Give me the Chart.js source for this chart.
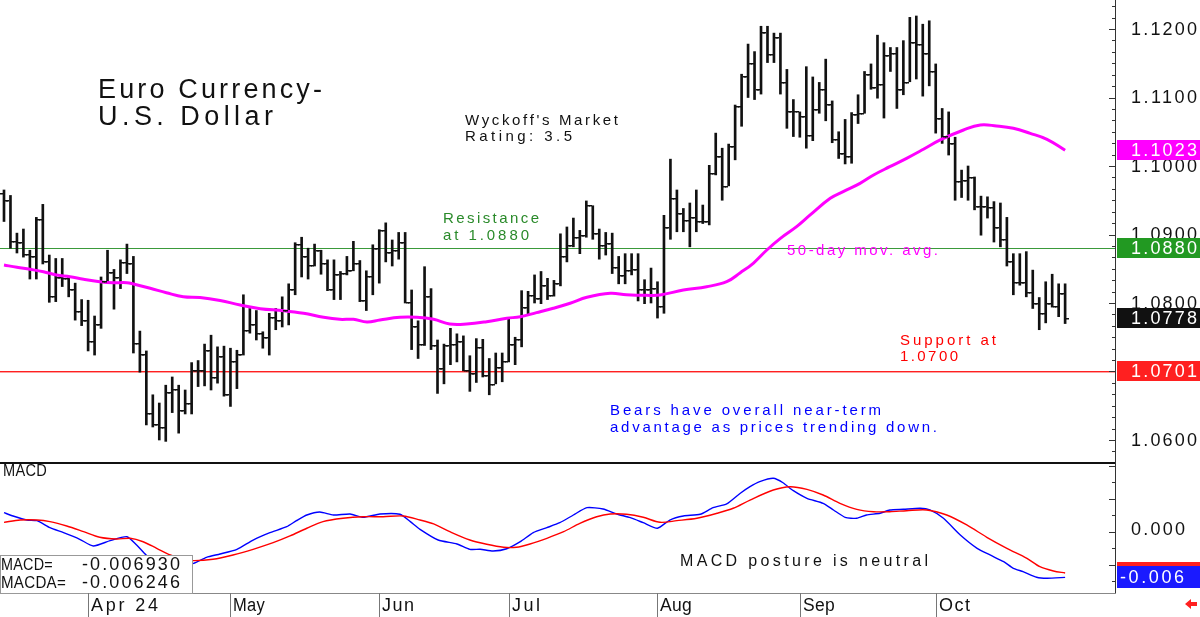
<!DOCTYPE html>
<html>
<head>
<meta charset="utf-8">
<script src="https://cdn.jsdelivr.net/npm/chart.js@4.4.1/dist/chart.umd.min.js"></script>
<style>
  html, body { margin: 0; padding: 0; background: #fff; }
  #wrap { position: relative; width: 1200px; height: 617px; overflow: hidden; background: #fff; }
  #priceChart { position: absolute; left: 0; top: 0; }
  #macdChart { position: absolute; left: 0; top: 462px; }
</style>
</head>
<body>
<div id="wrap">
  <canvas id="priceChart" width="1200" height="462"></canvas>
  <canvas id="macdChart" width="1200" height="155"></canvas>
</div>
<script>
// daily EUR/USD bars, mid-March to late October 2024 (index = trading day)
const highs = [
  1.0965, 1.0957, 1.0902, 1.0908, 1.0877, 1.0925, 1.0944, 1.0870, 1.0865, 1.0865,
  1.0838, 1.0829, 1.0805, 1.0804, 1.0781, 1.0838, 1.0877, 1.0849, 1.0863, 1.0886,
  1.0868, 1.0759, 1.0730, 1.0666, 1.0654, 1.0680, 1.0692, 1.0680, 1.0673, 1.0713,
  1.0716, 1.0740, 1.0753, 1.0736, 1.0737, 1.0734, 1.0731, 1.0812, 1.0792, 1.0789,
  1.0758, 1.0785, 1.0792, 1.0809, 1.0828, 1.0888, 1.0896, 1.0880, 1.0886, 1.0877,
  1.0863, 1.0863, 1.0846, 1.0868, 1.0890, 1.0862, 1.0847, 1.0885, 1.0907, 1.0917,
  1.0892, 1.0903, 1.0903, 1.0819, 1.0774, 1.0853, 1.0821, 1.0746, 1.0740, 1.0763,
  1.0755, 1.0752, 1.0723, 1.0748, 1.0747, 1.0719, 1.0727, 1.0727, 1.0778, 1.0750,
  1.0818, 1.0817, 1.0841, 1.0846, 1.0836, 1.0833, 1.0901, 1.0911, 1.0924, 1.0906,
  1.0949, 1.0942, 1.0908, 1.0903, 1.0902, 1.0868, 1.0872, 1.0872, 1.0872, 1.0834,
  1.0851, 1.0831, 1.0928, 1.1010, 1.0965, 1.0938, 1.0946, 1.0965, 1.0943, 1.1001,
  1.1048, 1.1026, 1.1032, 1.1089, 1.1134, 1.1178, 1.1167, 1.1204, 1.1204, 1.1194,
  1.1194, 1.1141, 1.1097, 1.1079, 1.1145, 1.1130, 1.1122, 1.1156, 1.1095, 1.1050,
  1.1068, 1.1078, 1.1104, 1.1138, 1.1149, 1.1191, 1.1180, 1.1173, 1.1173, 1.1183,
  1.1217, 1.1219, 1.1207, 1.1212, 1.1149, 1.1084, 1.1079, 1.1042, 1.0994, 1.1000,
  1.0984, 1.0956, 1.0955, 1.0948, 1.0946, 1.0925, 1.0872, 1.0872, 1.0875, 1.0848,
  1.0808, 1.0831, 1.0842, 1.0828, 1.0828
];
const lows = [
  1.0919, 1.0880, 1.0873, 1.0867, 1.0835, 1.0835, 1.0857, 1.0801, 1.0802, 1.0824,
  1.0809, 1.0775, 1.0767, 1.0730, 1.0724, 1.0763, 1.0831, 1.0791, 1.0821, 1.0843,
  1.0727, 1.0699, 1.0622, 1.0619, 1.0600, 1.0598, 1.0640, 1.0610, 1.0638, 1.0638,
  1.0678, 1.0679, 1.0673, 1.0683, 1.0664, 1.0649, 1.0675, 1.0724, 1.0756, 1.0746,
  1.0734, 1.0724, 1.0761, 1.0765, 1.0768, 1.0812, 1.0838, 1.0835, 1.0854, 1.0842,
  1.0818, 1.0805, 1.0805, 1.0841, 1.0847, 1.0802, 1.0789, 1.0812, 1.0829, 1.0860,
  1.0854, 1.0864, 1.0800, 1.0732, 1.0719, 1.0738, 1.0732, 1.0668, 1.0682, 1.0710,
  1.0714, 1.0701, 1.0671, 1.0684, 1.0692, 1.0666, 1.0682, 1.0685, 1.0714, 1.0710,
  1.0736, 1.0782, 1.0800, 1.0799, 1.0805, 1.0810, 1.0825, 1.0860, 1.0882, 1.0872,
  1.0896, 1.0893, 1.0864, 1.0870, 1.0843, 1.0828, 1.0828, 1.0841, 1.0803, 1.0799,
  1.0800, 1.0778, 1.0785, 1.0893, 1.0904, 1.0904, 1.0882, 1.0904, 1.0916, 1.0914,
  1.0987, 1.0950, 1.0971, 1.1009, 1.1058, 1.1100, 1.1097, 1.1105, 1.1151, 1.1151,
  1.1105, 1.1055, 1.1043, 1.1042, 1.1026, 1.1037, 1.1077, 1.1066, 1.1034, 1.1011,
  1.1003, 1.1004, 1.1062, 1.1077, 1.1112, 1.1099, 1.1070, 1.1138, 1.1084, 1.1104,
  1.1123, 1.1127, 1.1102, 1.1117, 1.1048, 1.1033, 1.1016, 1.0950, 1.0954, 1.0950,
  1.0936, 1.0899, 1.0924, 1.0889, 1.0882, 1.0854, 1.0812, 1.0826, 1.0809, 1.0792,
  1.0761, 1.0771, 1.0794, 1.0780, 1.0770
];
const opens = [
  1.0960, 1.0950, 1.0890, 1.0889, 1.0872, 1.0869, 1.0922, 1.0861, 1.0810, 1.0838,
  1.0836, 1.0820, 1.0789, 1.0775, 1.0745, 1.0770, 1.0832, 1.0845, 1.0838, 1.0860,
  1.0858, 1.0742, 1.0725, 1.0640, 1.0624, 1.0619, 1.0670, 1.0674, 1.0644, 1.0654,
  1.0702, 1.0702, 1.0731, 1.0692, 1.0722, 1.0667, 1.0715, 1.0725, 1.0760, 1.0770,
  1.0756, 1.0751, 1.0780, 1.0775, 1.0790, 1.0820, 1.0886, 1.0869, 1.0855, 1.0877,
  1.0858, 1.0821, 1.0843, 1.0844, 1.0848, 1.0859, 1.0804, 1.0840, 1.0880, 1.0906,
  1.0875, 1.0878, 1.0889, 1.0801, 1.0766, 1.0740, 1.0810, 1.0739, 1.0705, 1.0739,
  1.0740, 1.0744, 1.0702, 1.0698, 1.0736, 1.0695, 1.0682, 1.0707, 1.0716, 1.0740,
  1.0747, 1.0794, 1.0812, 1.0807, 1.0826, 1.0812, 1.0829, 1.0868, 1.0885, 1.0896,
  1.0899, 1.0943, 1.0902, 1.0885, 1.0888, 1.0852, 1.0841, 1.0848, 1.0849, 1.0821,
  1.0820, 1.0822, 1.0795, 1.0911, 1.0954, 1.0932, 1.0921, 1.0925, 1.0920, 1.0919,
  1.0990, 1.1015, 1.0971, 1.1029, 1.1087, 1.1131, 1.1151, 1.1113, 1.1195, 1.1164,
  1.1188, 1.1122, 1.1081, 1.1081, 1.1073, 1.1045, 1.1083, 1.1112, 1.1090, 1.1040,
  1.1019, 1.1015, 1.1076, 1.1077, 1.1134, 1.1115, 1.1120, 1.1162, 1.1165, 1.1113,
  1.1122, 1.1181, 1.1178, 1.1165, 1.1138, 1.1070, 1.1044, 1.1034, 1.0978, 1.0979,
  1.0984, 1.0941, 1.0941, 1.0940, 1.0911, 1.0893, 1.0862, 1.0831, 1.0830, 1.0816,
  1.0800, 1.0785, 1.0800, 1.0796, 1.0814
];
const closes = [
  1.0950, 1.0890, 1.0889, 1.0872, 1.0869, 1.0922, 1.0861, 1.0810, 1.0838, 1.0836,
  1.0820, 1.0789, 1.0775, 1.0745, 1.0770, 1.0832, 1.0845, 1.0838, 1.0860, 1.0858,
  1.0742, 1.0725, 1.0640, 1.0624, 1.0619, 1.0670, 1.0674, 1.0644, 1.0654, 1.0702,
  1.0702, 1.0731, 1.0692, 1.0722, 1.0667, 1.0715, 1.0725, 1.0760, 1.0770, 1.0756,
  1.0751, 1.0780, 1.0775, 1.0790, 1.0820, 1.0886, 1.0869, 1.0855, 1.0877, 1.0858,
  1.0821, 1.0843, 1.0844, 1.0848, 1.0859, 1.0804, 1.0840, 1.0880, 1.0906, 1.0875,
  1.0878, 1.0889, 1.0801, 1.0766, 1.0740, 1.0810, 1.0739, 1.0705, 1.0739, 1.0740,
  1.0744, 1.0702, 1.0698, 1.0736, 1.0695, 1.0682, 1.0707, 1.0716, 1.0740, 1.0747,
  1.0794, 1.0812, 1.0807, 1.0826, 1.0812, 1.0829, 1.0868, 1.0885, 1.0896, 1.0899,
  1.0943, 1.0902, 1.0885, 1.0888, 1.0852, 1.0841, 1.0848, 1.0849, 1.0821, 1.0820,
  1.0822, 1.0795, 1.0911, 1.0954, 1.0932, 1.0921, 1.0925, 1.0920, 1.0919, 1.0990,
  1.1015, 1.0971, 1.1029, 1.1087, 1.1131, 1.1151, 1.1113, 1.1195, 1.1164, 1.1188,
  1.1122, 1.1081, 1.1081, 1.1073, 1.1045, 1.1083, 1.1112, 1.1090, 1.1040, 1.1019,
  1.1015, 1.1076, 1.1077, 1.1134, 1.1115, 1.1120, 1.1162, 1.1165, 1.1113, 1.1122,
  1.1181, 1.1178, 1.1165, 1.1138, 1.1070, 1.1044, 1.1034, 1.0978, 1.0979, 1.0984,
  1.0941, 1.0941, 1.0940, 1.0911, 1.0893, 1.0862, 1.0831, 1.0830, 1.0816, 1.0800,
  1.0785, 1.0800, 1.0796, 1.0814, 1.0778
];

// 50-day moving average, read at these bar positions
const maIdx = [0, 2, 4, 6.1, 8.1, 10.2, 12.3, 14.8, 16.9, 19, 20, 22.6, 25.1, 27.7, 30.3,
  33.4, 36.5, 39.6, 43.2, 46.3, 49.4, 51.9, 54, 56.1, 58.1, 61.2, 63.8, 66.4, 68.9, 71.5,
  74.6, 77.7, 79.8, 82.3, 84.9, 87.5, 90.1, 93.7, 96.2, 99.3, 101.4, 105, 108.6, 111.7, 113.8,
  115.8, 117.9, 120, 122.5, 124.6, 127.7, 129.7, 132.3, 134.4, 136.9, 139.5, 142.1, 144.7, 148.3, 150.9,
  153.4, 156, 158.6, 161.2, 164];
const maVals = [1.08555, 1.08521, 1.08492, 1.08457, 1.08409, 1.08384, 1.08346, 1.08311, 1.08296, 1.08296,
  1.08277, 1.08215, 1.0815, 1.08092, 1.0808, 1.08036, 1.07971, 1.07917, 1.07888, 1.0785,
  1.07791, 1.07762, 1.07762, 1.07723, 1.07752, 1.07791, 1.07791, 1.07762, 1.07693, 1.07693,
  1.07727, 1.07777, 1.078, 1.07859, 1.07923, 1.07996, 1.08083, 1.08142, 1.08121, 1.08112,
  1.08117, 1.0819, 1.08238, 1.08311, 1.08442, 1.0858, 1.08774, 1.08944, 1.09114, 1.09285,
  1.09528, 1.09625, 1.09747, 1.09869, 1.0999, 1.10112, 1.10244, 1.1038, 1.10526, 1.10599,
  1.10584, 1.1055, 1.10477, 1.1039, 1.1023];

// MACD (blue) and its average MACDA (red)
const macdIdx = [0, 1.4, 3.5, 5.1, 7.1, 9.2, 11.7, 13.8, 16.4, 19, 20.5, 22, 24.1, 26.4, 29.3,
  31.3, 33.4, 36, 38.5, 41.1, 43.7, 45.2, 46.8, 48.8, 50.9, 53.5, 55.5, 58.1, 61.2, 62.8,
  64.3, 67.1, 70, 72, 73.6, 75.6, 77.7, 79.8, 81.8, 83.9, 85.9, 88, 90.1, 92.6, 94.7,
  96.8, 98.8, 101, 102.9, 105, 107.6, 109.6, 111.7, 113.8, 115.3, 116.8, 118.9, 120.4, 122, 124.1,
  126.6, 128.2, 130, 131.8, 133.3, 135.4, 136.9, 139, 141.6, 143.1, 145.2, 147.8, 150.4, 152.4, 154.5,
  156, 157.5, 159.6, 161.2, 164];
const macdVals = [0.00288, 0.00238, 0.00177, 0.00167, 0.00061, -0.00015, -0.00115, -0.00217, -0.00136, -0.00076,
  -0.00202, -0.00356, -0.00505, -0.00535, -0.00479, -0.00388, -0.00338, -0.00267, -0.00126, -0.00015,
  0.00076, 0.00167, 0.00253, 0.00298, 0.00253, 0.00268, 0.00218, 0.00268, 0.00264, 0.00152,
  0.00036, -0.00126, -0.00186, -0.00267, -0.00267, -0.00292, -0.00258, -0.00152, -0.00015, 0.00061,
  0.00136, 0.00253, 0.00364, 0.00344, 0.00268, 0.00212, 0.00136, 0.00052, 0.00177, 0.00238,
  0.00264, 0.00364, 0.0042, 0.00582, 0.00682, 0.00758, 0.00809, 0.00742, 0.00621, 0.00506,
  0.0043, 0.00329, 0.00218, 0.00203, 0.00253, 0.00279, 0.00329, 0.00339, 0.00355, 0.00329,
  0.00203, -0.0005, -0.00252, -0.00353, -0.00455, -0.00555, -0.00606, -0.00691, -0.00706, -0.00693];
const sigIdx = [0, 2.5, 5.1, 7.1, 9.7, 12.3, 14.8, 17.4, 19.5, 21.5, 23.6, 25.7, 27.5, 29.3, 32.3,
  35.4, 38.5, 41.6, 44.2, 46.8, 49.3, 52.4, 55.5, 58.6, 61.7, 64.3, 66.4, 68.9, 72, 74.6,
  77.2, 79.2, 81.3, 83.9, 86.5, 89, 91.6, 93.7, 96.2, 98.8, 101.4, 104, 107.1, 110.2, 112.7,
  115.3, 118.9, 121.5, 124.1, 126.6, 129.2, 131.8, 134.4, 136.9, 139.5, 142.6, 145.7, 148.8, 151.9, 155,
  158.1, 160.1, 162.2, 164];
const sigVals = [0.00142, 0.00177, 0.00177, 0.00152, 0.00086, 0, -0.00085, -0.00111, -0.001, -0.00152,
  -0.00252, -0.00353, -0.00414, -0.00439, -0.00418, -0.00353, -0.00267, -0.00167, -0.00065, 0.00052,
  0.00152, 0.00203, 0.00227, 0.00227, 0.00238, 0.00177, 0.00117, 0, -0.00126, -0.00191,
  -0.00236, -0.00236, -0.00186, -0.001, 0, 0.00127, 0.00227, 0.00268, 0.00264, 0.00218,
  0.00142, 0.00167, 0.00203, 0.00279, 0.00355, 0.0048, 0.00632, 0.00682, 0.00642, 0.00556,
  0.0043, 0.00339, 0.00303, 0.00303, 0.00318, 0.00329, 0.00253, 0.00102, -0.00085, -0.00252,
  -0.00403, -0.0053, -0.00595, -0.00625];

const monthIdx = [13, 35, 58, 78, 101, 123, 144];
const monthLabels = ['Apr 24', 'May', 'Jun', 'Jul', 'Aug', 'Sep', 'Oct'];
const priceTicks = [1.06, 1.07, 1.08, 1.09, 1.10, 1.11, 1.12];

const resistance = 1.0880;
const support = 1.0701;
const lastClose = 1.0778;
const lastMA = 1.1023;
const lastMacd = -0.006930;
const lastMacda = -0.006246;

const X_MIN = -0.618, X_MAX = 171.71;
const AXIS_X = 1115;
const FONT = '"Liberation Sans", Arial, sans-serif';

// text fitted to the width it has in the original (spacing, or squeeze if too wide)
function spaced(ctx, text, x, y, width, size, color) {
  ctx.save();
  ctx.font = size + 'px ' + FONT;
  ctx.fillStyle = color;
  ctx.textBaseline = 'middle';
  ctx.textAlign = 'left';
  ctx.letterSpacing = '0px';
  const w = ctx.measureText(text).width;
  const sp = text.length > 1 ? (width - w) / (text.length - 1) : 0;
  if (sp >= 0.3) {
    ctx.letterSpacing = sp + 'px';
    ctx.fillText(text, x, y);
  } else {
    ctx.letterSpacing = '0.3px';
    const w2 = ctx.measureText(text).width;
    ctx.translate(x, y);
    ctx.scale(width / w2, 1);
    ctx.fillText(text, 0, 0);
  }
  ctx.restore();
}

function valueBox(ctx, y, h, bg, text) {
  ctx.fillStyle = bg;
  ctx.fillRect(AXIS_X + 2, Math.round(y - h / 2), 1200 - AXIS_X - 2, h);
  spaced(ctx, text, 1131, y + 1, 66, 18, '#fff');
}

const pricePlugin = {
  id: 'priceDecor',
  beforeDatasetsDraw(chart) {
    const { ctx, chartArea: a, scales: { y } } = chart;
    ctx.save();
    ctx.fillStyle = '#3a9a3a';
    ctx.fillRect(a.left, Math.round(y.getPixelForValue(resistance)), a.right - a.left, 1);
    const ys = Math.round(y.getPixelForValue(support));
    ctx.fillStyle = '#ff2020';
    ctx.fillRect(a.left, ys, a.right - a.left, 1);
    ctx.fillStyle = '#ffa0a0';
    ctx.fillRect(a.left, ys + 1, a.right - a.left, 1);
    ctx.restore();
  },
  afterDatasetsDraw(chart) {
    const { ctx, chartArea: a, scales: { x, y } } = chart;
    ctx.save();
    // open (left) and close (right) ticks
    ctx.fillStyle = '#111';
    closes.forEach((c, i) => {
      const px = Math.round(x.getPixelForValue(i));
      ctx.fillRect(px - 4, Math.round(y.getPixelForValue(opens[i])), 3, 1.5);
      ctx.fillRect(px + 1, Math.round(y.getPixelForValue(c)), 3, 1.5);
    });
    // right axis
    ctx.fillStyle = '#333';
    ctx.fillRect(AXIS_X, 0, 1, a.bottom);
    for (let k = Math.ceil(y.min * 600); k <= Math.floor(y.max * 600); k++) {
      const py = Math.round(y.getPixelForValue(k / 600));
      const len = k % 6 === 0 ? 6 : 3;
      ctx.fillRect(AXIS_X - len, py, len, 1);
    }
    priceTicks.forEach(t => {
      spaced(ctx, t.toFixed(4), 1131, y.getPixelForValue(t) + 1, 66, 18, '#111');
    });
    valueBox(ctx, y.getPixelForValue(lastMA), 20, '#ff00ff', lastMA.toFixed(4));
    valueBox(ctx, y.getPixelForValue(resistance), 20, '#229922', resistance.toFixed(4));
    valueBox(ctx, y.getPixelForValue(lastClose), 20, '#111', lastClose.toFixed(4));
    valueBox(ctx, y.getPixelForValue(support), 20, '#ff2020', support.toFixed(4));

    // annotations
    spaced(ctx, 'Euro Currency-', 98, 91, 224, 27, '#111');
    spaced(ctx, 'U.S. Dollar', 98, 118, 175, 27, '#111');
    spaced(ctx, "Wyckoff's Market", 465, 121, 153, 15, '#111');
    spaced(ctx, 'Rating: 3.5', 465, 137, 107, 15, '#111');
    spaced(ctx, 'Resistance', 443, 219, 96, 15, '#2a8a2a');
    spaced(ctx, 'at 1.0880', 443, 236, 86, 15, '#2a8a2a');
    spaced(ctx, '50-day mov. avg.', 787, 251, 151, 15, '#ff00ff');
    spaced(ctx, 'Support at', 900, 341, 96, 15, '#ff0000');
    spaced(ctx, '1.0700', 900, 357, 58, 15, '#ff0000');
    spaced(ctx, 'Bears have overall near-term', 610, 411, 271, 15, '#0000ff');
    spaced(ctx, 'advantage as prices trending down.', 610, 428, 327, 15, '#0000ff');
    ctx.restore();
  }
};

const macdPlugin = {
  id: 'macdDecor',
  afterDatasetsDraw(chart) {
    const { ctx, chartArea: a, scales: { x, y } } = chart;
    ctx.save();
    // panel frame
    ctx.fillStyle = '#111';
    ctx.fillRect(0, 0, AXIS_X + 1, 2);
    ctx.fillStyle = '#888';
    ctx.fillRect(0, a.bottom, AXIS_X + 1, 1);
    ctx.fillStyle = '#333';
    ctx.fillRect(AXIS_X, 0, 1, a.bottom);
    for (let k = Math.ceil(y.min * 400); k <= Math.floor(y.max * 400); k++) {
      const py = Math.round(y.getPixelForValue(k / 400));
      const len = k % 2 === 0 ? 6 : 3;
      ctx.fillRect(AXIS_X - len, py, len, 1);
    }
    spaced(ctx, '0.000', 1131, y.getPixelForValue(0) - 2, 54, 18, '#111');

    // value boxes (last values, shown cut to three decimals)
    const shortVal = v => (Math.trunc(v * 1000) / 1000).toFixed(3);
    let yb = y.getPixelForValue(lastMacda);
    ctx.fillStyle = '#ff2020';
    ctx.fillRect(AXIS_X + 2, Math.round(yb - 11), 1200 - AXIS_X - 2, 22);
    yb = y.getPixelForValue(lastMacd);
    ctx.fillStyle = '#1a1aff';
    ctx.fillRect(AXIS_X + 2, Math.round(yb - 11), 1200 - AXIS_X - 2, 22);
    spaced(ctx, shortVal(lastMacd), 1120, yb + 1, 64, 18, '#fff');

    // labels
    spaced(ctx, 'MACD', 3, 10, 44, 16, '#111');
    spaced(ctx, 'MACD posture is neutral', 680, 100, 248, 16, '#111');

    // readout box
    ctx.fillStyle = '#fff';
    ctx.fillRect(0, 93, 193, a.bottom - 93);
    ctx.strokeStyle = '#999';
    ctx.lineWidth = 1;
    ctx.strokeRect(0.5, 93.5, 192, a.bottom - 93);
    spaced(ctx, 'MACD=', 1, 103, 52, 17, '#111');
    spaced(ctx, lastMacd.toFixed(6), 82, 103, 98, 18, '#111');
    spaced(ctx, 'MACDA=', 1, 121, 65, 17, '#111');
    spaced(ctx, lastMacda.toFixed(6), 82, 121, 98, 18, '#111');

    // time axis
    const labelW = [67, 32, 32, 28, 32, 32, 31];
    monthIdx.forEach((m, i) => {
      const px = Math.round(x.getPixelForValue(m));
      ctx.fillStyle = '#777';
      ctx.fillRect(px, a.bottom, 1, 155 - a.bottom);
      spaced(ctx, monthLabels[i], px + 3, a.bottom + 13, labelW[i], 18, '#111');
    });

    // small red arrow at the lower right
    ctx.fillStyle = '#ff2020';
    ctx.beginPath();
    ctx.moveTo(1185, 142);
    ctx.lineTo(1191, 137);
    ctx.lineTo(1191, 140);
    ctx.lineTo(1197, 140);
    ctx.lineTo(1197, 144);
    ctx.lineTo(1191, 144);
    ctx.lineTo(1191, 147);
    ctx.closePath();
    ctx.fill();
    ctx.restore();
  }
};

const barData = highs.map((h, i) => ({ x: i, y: [lows[i], h] }));
const maData = maIdx.map((m, i) => ({ x: m, y: maVals[i] }));

new Chart(document.getElementById('priceChart'), {
  data: {
    datasets: [
      {
        type: 'line',
        data: maData,
        borderColor: '#ff00ff',
        borderWidth: 3,
        pointRadius: 0,
        tension: 0.4,
        order: 1,
      },
      {
        type: 'bar',
        data: barData,
        backgroundColor: '#111',
        borderWidth: 0,
        barThickness: 2,
        grouped: false,
        order: 2,
      },
    ],
  },
  options: {
    responsive: false,
    animation: false,
    devicePixelRatio: 1,
    layout: { padding: { left: 0, right: 1200 - AXIS_X, top: 0, bottom: 0 } },
    plugins: { legend: { display: false }, tooltip: { enabled: false } },
    scales: {
      x: { type: 'linear', min: X_MIN, max: X_MAX, offset: false, display: false },
      y: { type: 'linear', min: 1.056788, max: 1.124234, display: false },
    },
  },
  plugins: [pricePlugin],
});

new Chart(document.getElementById('macdChart'), {
  type: 'line',
  data: {
    datasets: [
      {
        label: 'MACDA',
        data: sigIdx.map((m, i) => ({ x: m, y: sigVals[i] })),
        borderColor: '#ff0000',
        borderWidth: 1.4,
        pointRadius: 0,
        tension: 0.3,
      },
      {
        label: 'MACD',
        data: macdIdx.map((m, i) => ({ x: m, y: macdVals[i] })),
        borderColor: '#0000ff',
        borderWidth: 1.4,
        pointRadius: 0,
        tension: 0.2,
      },
    ],
  },
  options: {
    responsive: false,
    animation: false,
    devicePixelRatio: 1,
    layout: { padding: { left: 0, right: 1200 - AXIS_X, top: 0, bottom: 24 } },
    plugins: { legend: { display: false }, tooltip: { enabled: false } },
    scales: {
      x: { type: 'linear', min: X_MIN, max: X_MAX, offset: false, display: false },
      y: { type: 'linear', min: -0.00929, max: 0.01056, display: false },
    },
  },
  plugins: [macdPlugin],
});
</script>
</body>
</html>
